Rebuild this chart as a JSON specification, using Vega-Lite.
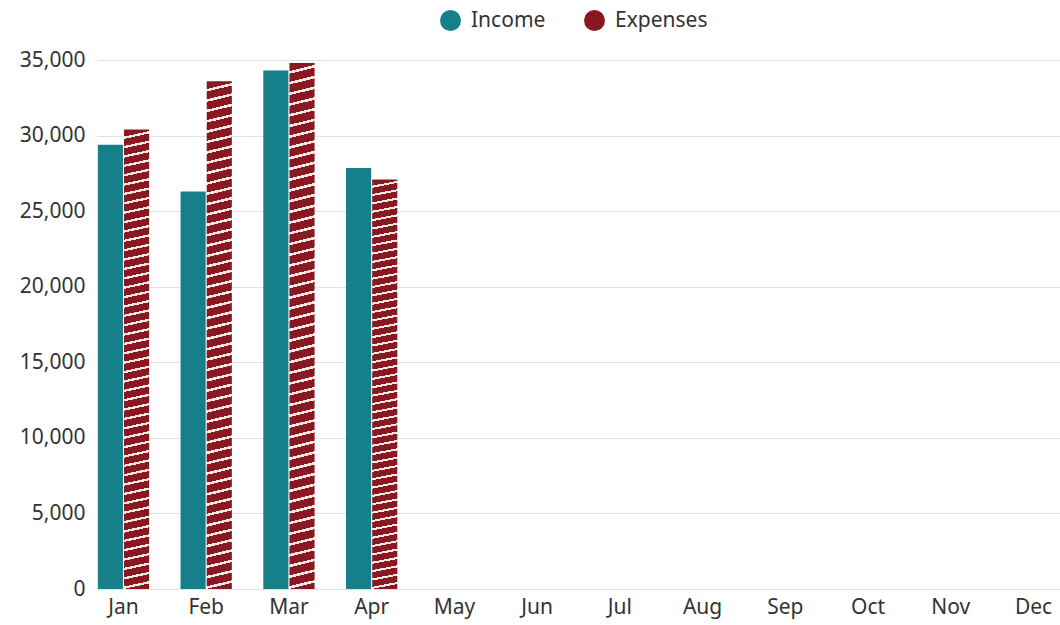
{
  "$schema": "https://vega.github.io/schema/vega-lite/v6.json",
  "width": 963,
  "height": 529,
  "padding": {"left": 19, "top": 10, "right": 0, "bottom": 4},
  "autosize": {"type": "pad"},
  "background": "#ffffff",
  "data": {
    "values": [
      {"month": "Jan", "series": "Income", "amount": 29400},
      {"month": "Jan", "series": "Expenses", "amount": 30400},
      {"month": "Feb", "series": "Income", "amount": 26300},
      {"month": "Feb", "series": "Expenses", "amount": 33600},
      {"month": "Mar", "series": "Income", "amount": 34300},
      {"month": "Mar", "series": "Expenses", "amount": 34800},
      {"month": "Apr", "series": "Income", "amount": 27850},
      {"month": "Apr", "series": "Expenses", "amount": 27100}
    ]
  },
  "mark": {"type": "bar"},
  "encoding": {
    "x": {
      "field": "month",
      "type": "ordinal",
      "scale": {
        "domain": ["Jan", "Feb", "Mar", "Apr", "May", "Jun", "Jul", "Aug", "Sep", "Oct", "Nov", "Dec"],
        "paddingInner": 0.38,
        "paddingOuter": 0.01
      },
      "axis": {
        "title": null,
        "labelAngle": 0,
        "ticks": false,
        "domain": false,
        "labelFontSize": 21,
        "labelPadding": 7,
        "labelColor": "#333333"
      }
    },
    "xOffset": {
      "field": "series",
      "scale": {"domain": ["Income", "Expenses"], "paddingInner": 0.04}
    },
    "y": {
      "field": "amount",
      "type": "quantitative",
      "scale": {"domain": [0, 35000]},
      "axis": {
        "title": null,
        "values": [0, 5000, 10000, 15000, 20000, 25000, 30000, 35000],
        "format": ",.0f",
        "domain": false,
        "ticks": false,
        "labelPadding": 12,
        "labelFontSize": 21,
        "labelColor": "#333333",
        "gridColor": "#e2e2e2"
      }
    },
    "fill": {
      "field": "series",
      "type": "nominal",
      "condition": {
        "test": "datum.series === 'Expenses'",
        "value": {
          "gradient": "linear",
          "x1": 0, "y1": 0, "x2": 0.012, "y2": 1.02,
          "stops": [
            {"offset": 0, "color": "#8a1820"}, {"offset": 0.015, "color": "#8a1820"}, {"offset": 0.015, "color": "#f6e8e6"}, {"offset": 0.02, "color": "#f6e8e6"},
            {"offset": 0.02, "color": "#8a1820"}, {"offset": 0.035, "color": "#8a1820"}, {"offset": 0.035, "color": "#f6e8e6"}, {"offset": 0.04, "color": "#f6e8e6"},
            {"offset": 0.04, "color": "#8a1820"}, {"offset": 0.055, "color": "#8a1820"}, {"offset": 0.055, "color": "#f6e8e6"}, {"offset": 0.06, "color": "#f6e8e6"},
            {"offset": 0.06, "color": "#8a1820"}, {"offset": 0.075, "color": "#8a1820"}, {"offset": 0.075, "color": "#f6e8e6"}, {"offset": 0.08, "color": "#f6e8e6"},
            {"offset": 0.08, "color": "#8a1820"}, {"offset": 0.095, "color": "#8a1820"}, {"offset": 0.095, "color": "#f6e8e6"}, {"offset": 0.1, "color": "#f6e8e6"},
            {"offset": 0.1, "color": "#8a1820"}, {"offset": 0.115, "color": "#8a1820"}, {"offset": 0.115, "color": "#f6e8e6"}, {"offset": 0.12, "color": "#f6e8e6"},
            {"offset": 0.12, "color": "#8a1820"}, {"offset": 0.135, "color": "#8a1820"}, {"offset": 0.135, "color": "#f6e8e6"}, {"offset": 0.14, "color": "#f6e8e6"},
            {"offset": 0.14, "color": "#8a1820"}, {"offset": 0.155, "color": "#8a1820"}, {"offset": 0.155, "color": "#f6e8e6"}, {"offset": 0.16, "color": "#f6e8e6"},
            {"offset": 0.16, "color": "#8a1820"}, {"offset": 0.175, "color": "#8a1820"}, {"offset": 0.175, "color": "#f6e8e6"}, {"offset": 0.18, "color": "#f6e8e6"},
            {"offset": 0.18, "color": "#8a1820"}, {"offset": 0.195, "color": "#8a1820"}, {"offset": 0.195, "color": "#f6e8e6"}, {"offset": 0.2, "color": "#f6e8e6"},
            {"offset": 0.2, "color": "#8a1820"}, {"offset": 0.215, "color": "#8a1820"}, {"offset": 0.215, "color": "#f6e8e6"}, {"offset": 0.22, "color": "#f6e8e6"},
            {"offset": 0.22, "color": "#8a1820"}, {"offset": 0.235, "color": "#8a1820"}, {"offset": 0.235, "color": "#f6e8e6"}, {"offset": 0.24, "color": "#f6e8e6"},
            {"offset": 0.24, "color": "#8a1820"}, {"offset": 0.255, "color": "#8a1820"}, {"offset": 0.255, "color": "#f6e8e6"}, {"offset": 0.26, "color": "#f6e8e6"},
            {"offset": 0.26, "color": "#8a1820"}, {"offset": 0.275, "color": "#8a1820"}, {"offset": 0.275, "color": "#f6e8e6"}, {"offset": 0.28, "color": "#f6e8e6"},
            {"offset": 0.28, "color": "#8a1820"}, {"offset": 0.295, "color": "#8a1820"}, {"offset": 0.295, "color": "#f6e8e6"}, {"offset": 0.3, "color": "#f6e8e6"},
            {"offset": 0.3, "color": "#8a1820"}, {"offset": 0.315, "color": "#8a1820"}, {"offset": 0.315, "color": "#f6e8e6"}, {"offset": 0.32, "color": "#f6e8e6"},
            {"offset": 0.32, "color": "#8a1820"}, {"offset": 0.335, "color": "#8a1820"}, {"offset": 0.335, "color": "#f6e8e6"}, {"offset": 0.34, "color": "#f6e8e6"},
            {"offset": 0.34, "color": "#8a1820"}, {"offset": 0.355, "color": "#8a1820"}, {"offset": 0.355, "color": "#f6e8e6"}, {"offset": 0.36, "color": "#f6e8e6"},
            {"offset": 0.36, "color": "#8a1820"}, {"offset": 0.375, "color": "#8a1820"}, {"offset": 0.375, "color": "#f6e8e6"}, {"offset": 0.38, "color": "#f6e8e6"},
            {"offset": 0.38, "color": "#8a1820"}, {"offset": 0.395, "color": "#8a1820"}, {"offset": 0.395, "color": "#f6e8e6"}, {"offset": 0.4, "color": "#f6e8e6"},
            {"offset": 0.4, "color": "#8a1820"}, {"offset": 0.415, "color": "#8a1820"}, {"offset": 0.415, "color": "#f6e8e6"}, {"offset": 0.42, "color": "#f6e8e6"},
            {"offset": 0.42, "color": "#8a1820"}, {"offset": 0.435, "color": "#8a1820"}, {"offset": 0.435, "color": "#f6e8e6"}, {"offset": 0.44, "color": "#f6e8e6"},
            {"offset": 0.44, "color": "#8a1820"}, {"offset": 0.455, "color": "#8a1820"}, {"offset": 0.455, "color": "#f6e8e6"}, {"offset": 0.46, "color": "#f6e8e6"},
            {"offset": 0.46, "color": "#8a1820"}, {"offset": 0.475, "color": "#8a1820"}, {"offset": 0.475, "color": "#f6e8e6"}, {"offset": 0.48, "color": "#f6e8e6"},
            {"offset": 0.48, "color": "#8a1820"}, {"offset": 0.495, "color": "#8a1820"}, {"offset": 0.495, "color": "#f6e8e6"}, {"offset": 0.5, "color": "#f6e8e6"},
            {"offset": 0.5, "color": "#8a1820"}, {"offset": 0.515, "color": "#8a1820"}, {"offset": 0.515, "color": "#f6e8e6"}, {"offset": 0.52, "color": "#f6e8e6"},
            {"offset": 0.52, "color": "#8a1820"}, {"offset": 0.535, "color": "#8a1820"}, {"offset": 0.535, "color": "#f6e8e6"}, {"offset": 0.54, "color": "#f6e8e6"},
            {"offset": 0.54, "color": "#8a1820"}, {"offset": 0.555, "color": "#8a1820"}, {"offset": 0.555, "color": "#f6e8e6"}, {"offset": 0.56, "color": "#f6e8e6"},
            {"offset": 0.56, "color": "#8a1820"}, {"offset": 0.575, "color": "#8a1820"}, {"offset": 0.575, "color": "#f6e8e6"}, {"offset": 0.58, "color": "#f6e8e6"},
            {"offset": 0.58, "color": "#8a1820"}, {"offset": 0.595, "color": "#8a1820"}, {"offset": 0.595, "color": "#f6e8e6"}, {"offset": 0.6, "color": "#f6e8e6"},
            {"offset": 0.6, "color": "#8a1820"}, {"offset": 0.615, "color": "#8a1820"}, {"offset": 0.615, "color": "#f6e8e6"}, {"offset": 0.62, "color": "#f6e8e6"},
            {"offset": 0.62, "color": "#8a1820"}, {"offset": 0.635, "color": "#8a1820"}, {"offset": 0.635, "color": "#f6e8e6"}, {"offset": 0.64, "color": "#f6e8e6"},
            {"offset": 0.64, "color": "#8a1820"}, {"offset": 0.655, "color": "#8a1820"}, {"offset": 0.655, "color": "#f6e8e6"}, {"offset": 0.66, "color": "#f6e8e6"},
            {"offset": 0.66, "color": "#8a1820"}, {"offset": 0.675, "color": "#8a1820"}, {"offset": 0.675, "color": "#f6e8e6"}, {"offset": 0.68, "color": "#f6e8e6"},
            {"offset": 0.68, "color": "#8a1820"}, {"offset": 0.695, "color": "#8a1820"}, {"offset": 0.695, "color": "#f6e8e6"}, {"offset": 0.7, "color": "#f6e8e6"},
            {"offset": 0.7, "color": "#8a1820"}, {"offset": 0.715, "color": "#8a1820"}, {"offset": 0.715, "color": "#f6e8e6"}, {"offset": 0.72, "color": "#f6e8e6"},
            {"offset": 0.72, "color": "#8a1820"}, {"offset": 0.735, "color": "#8a1820"}, {"offset": 0.735, "color": "#f6e8e6"}, {"offset": 0.74, "color": "#f6e8e6"},
            {"offset": 0.74, "color": "#8a1820"}, {"offset": 0.755, "color": "#8a1820"}, {"offset": 0.755, "color": "#f6e8e6"}, {"offset": 0.76, "color": "#f6e8e6"},
            {"offset": 0.76, "color": "#8a1820"}, {"offset": 0.775, "color": "#8a1820"}, {"offset": 0.775, "color": "#f6e8e6"}, {"offset": 0.78, "color": "#f6e8e6"},
            {"offset": 0.78, "color": "#8a1820"}, {"offset": 0.795, "color": "#8a1820"}, {"offset": 0.795, "color": "#f6e8e6"}, {"offset": 0.8, "color": "#f6e8e6"},
            {"offset": 0.8, "color": "#8a1820"}, {"offset": 0.815, "color": "#8a1820"}, {"offset": 0.815, "color": "#f6e8e6"}, {"offset": 0.82, "color": "#f6e8e6"},
            {"offset": 0.82, "color": "#8a1820"}, {"offset": 0.835, "color": "#8a1820"}, {"offset": 0.835, "color": "#f6e8e6"}, {"offset": 0.84, "color": "#f6e8e6"},
            {"offset": 0.84, "color": "#8a1820"}, {"offset": 0.855, "color": "#8a1820"}, {"offset": 0.855, "color": "#f6e8e6"}, {"offset": 0.86, "color": "#f6e8e6"},
            {"offset": 0.86, "color": "#8a1820"}, {"offset": 0.875, "color": "#8a1820"}, {"offset": 0.875, "color": "#f6e8e6"}, {"offset": 0.88, "color": "#f6e8e6"},
            {"offset": 0.88, "color": "#8a1820"}, {"offset": 0.895, "color": "#8a1820"}, {"offset": 0.895, "color": "#f6e8e6"}, {"offset": 0.9, "color": "#f6e8e6"},
            {"offset": 0.9, "color": "#8a1820"}, {"offset": 0.915, "color": "#8a1820"}, {"offset": 0.915, "color": "#f6e8e6"}, {"offset": 0.92, "color": "#f6e8e6"},
            {"offset": 0.92, "color": "#8a1820"}, {"offset": 0.935, "color": "#8a1820"}, {"offset": 0.935, "color": "#f6e8e6"}, {"offset": 0.94, "color": "#f6e8e6"},
            {"offset": 0.94, "color": "#8a1820"}, {"offset": 0.955, "color": "#8a1820"}, {"offset": 0.955, "color": "#f6e8e6"}, {"offset": 0.96, "color": "#f6e8e6"},
            {"offset": 0.96, "color": "#8a1820"}, {"offset": 0.975, "color": "#8a1820"}, {"offset": 0.975, "color": "#f6e8e6"}, {"offset": 0.98, "color": "#f6e8e6"},
            {"offset": 0.98, "color": "#8a1820"}, {"offset": 0.995, "color": "#8a1820"}, {"offset": 0.995, "color": "#f6e8e6"}, {"offset": 1, "color": "#f6e8e6"}
          ]
        }
      },
      "scale": {"domain": ["Income", "Expenses"], "range": ["#16808a", "#8a1820"]},
      "legend": {
        "title": null,
        "orient": "none",
        "direction": "horizontal",
        "legendX": 343,
        "legendY": -50,
        "symbolType": "circle",
        "symbolSize": 441,
        "symbolStrokeWidth": 0,
        "labelFontSize": 21,
        "labelColor": "#333333",
        "labelOffset": 10,
        "columnPadding": 38
      }
    }
  },
  "config": {
    "font": "Noto Sans",
    "view": {"stroke": null}
  }
}
